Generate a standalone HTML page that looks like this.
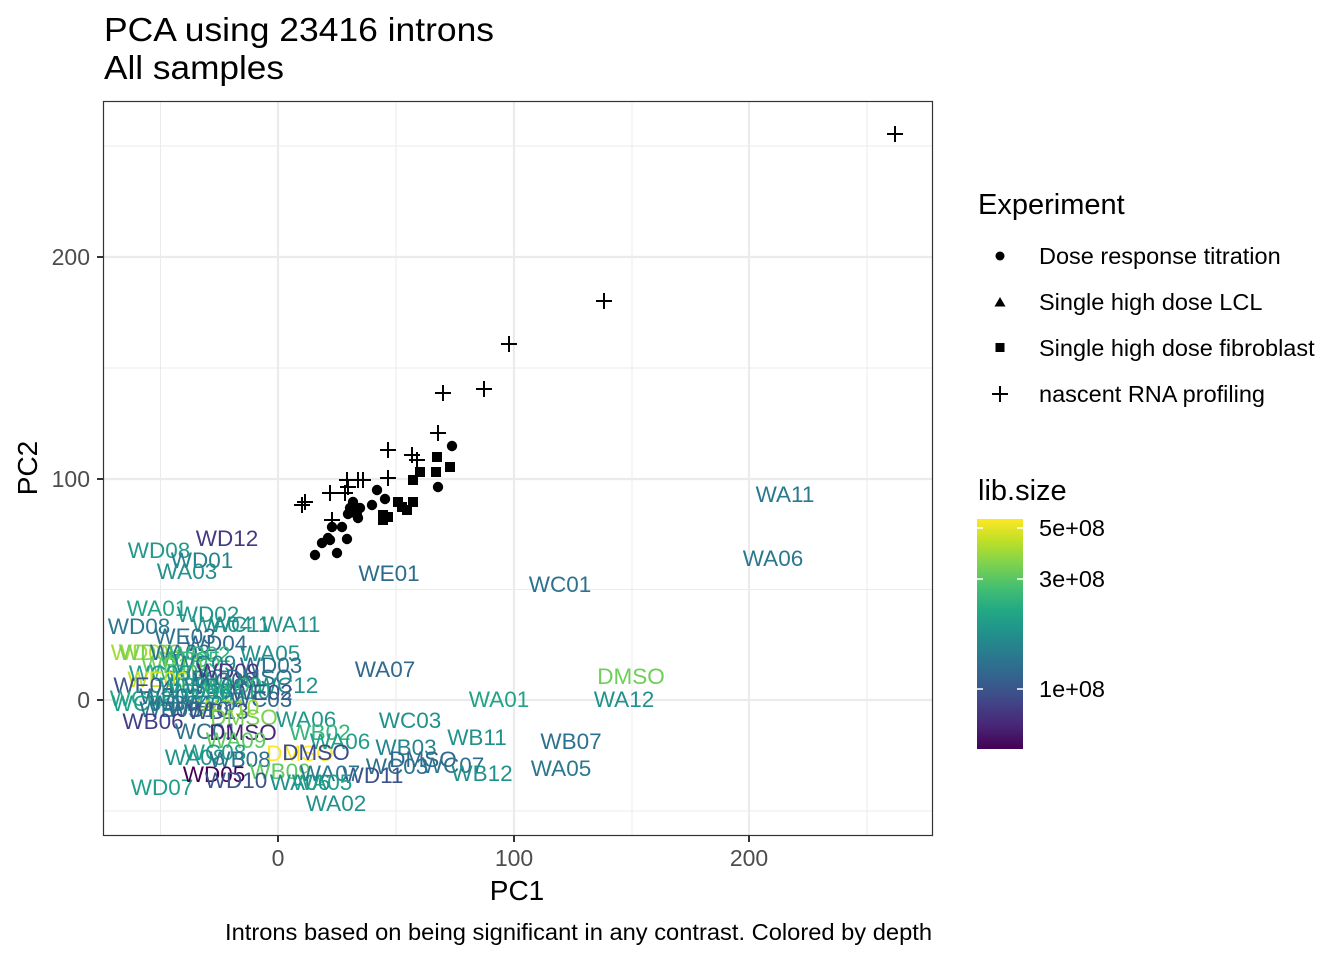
<!DOCTYPE html>
<html><head><meta charset="utf-8"><style>
html,body{margin:0;padding:0;background:#fff;}
svg{display:block;font-family:"Liberation Sans",Arial,sans-serif;}
.lb{font-size:22.5px;text-anchor:middle;}
</style></head><body>
<svg width="1344" height="960" viewBox="0 0 1344 960" xmlns="http://www.w3.org/2000/svg">
<defs>
<linearGradient id="vir" x1="0" y1="1" x2="0" y2="0">
<stop offset="0" stop-color="#440154"/><stop offset="0.1" stop-color="#482576"/><stop offset="0.2" stop-color="#414487"/><stop offset="0.3" stop-color="#35608D"/><stop offset="0.4" stop-color="#2A788E"/><stop offset="0.5" stop-color="#21908C"/><stop offset="0.6" stop-color="#22A884"/><stop offset="0.7" stop-color="#43BF71"/><stop offset="0.8" stop-color="#7AD151"/><stop offset="0.9" stop-color="#BBDF27"/><stop offset="1" stop-color="#FDE725"/>
</linearGradient>
<clipPath id="pc"><rect x="104" y="102" width="828" height="733"/></clipPath>
</defs>
<rect width="1344" height="960" fill="#fff"/>
<text x="104" y="41" font-size="33" fill="#000" textLength="390" lengthAdjust="spacingAndGlyphs">PCA using 23416 introns</text>
<text x="104" y="79" font-size="33" fill="#000" textLength="180" lengthAdjust="spacingAndGlyphs">All samples</text>
<rect x="103.5" y="101.5" width="829" height="734" fill="#fff"/>
<g stroke="#ebebeb" stroke-width="1">
<line x1="160.5" y1="102" x2="160.5" y2="835"/><line x1="396" y1="102" x2="396" y2="835"/><line x1="632" y1="102" x2="632" y2="835"/><line x1="867" y1="102" x2="867" y2="835"/>
<line x1="104" y1="146" x2="932" y2="146"/><line x1="104" y1="368" x2="932" y2="368"/><line x1="104" y1="589.5" x2="932" y2="589.5"/><line x1="104" y1="811" x2="932" y2="811"/>
</g>
<g stroke="#ebebeb" stroke-width="2.2">
<line x1="278" y1="102" x2="278" y2="835"/><line x1="514" y1="102" x2="514" y2="835"/><line x1="749" y1="102" x2="749" y2="835"/>
<line x1="104" y1="257" x2="932" y2="257"/><line x1="104" y1="479" x2="932" y2="479"/><line x1="104" y1="700" x2="932" y2="700"/>
</g>
<g clip-path="url(#pc)">
<g fill="#000">
<circle cx="452" cy="446" r="5.2"/><circle cx="438" cy="487" r="5.2"/><circle cx="377" cy="490" r="5.2"/><circle cx="385" cy="499" r="5.2"/><circle cx="353" cy="502" r="5.2"/><circle cx="350" cy="508" r="5.2"/><circle cx="360" cy="508" r="5.2"/><circle cx="372" cy="505" r="5.2"/><circle cx="358" cy="518" r="5.2"/><circle cx="332" cy="527" r="5.2"/><circle cx="342" cy="527" r="5.2"/><circle cx="347" cy="539" r="5.2"/><circle cx="328" cy="538" r="5.2"/><circle cx="322" cy="543" r="5.2"/><circle cx="337" cy="553" r="5.2"/><circle cx="315" cy="555" r="5.2"/><circle cx="357" cy="515" r="5.2"/><circle cx="330" cy="540" r="5.2"/><circle cx="348" cy="514" r="5.2"/><circle cx="354" cy="512" r="5.2"/>
</g>
<g fill="#000">
<rect x="432" y="452" width="10" height="10"/><rect x="445" y="462" width="10" height="10"/><rect x="431" y="467" width="10" height="10"/><rect x="415" y="467" width="10" height="10"/><rect x="408" y="475" width="10" height="10"/><rect x="393" y="497" width="10" height="10"/><rect x="408" y="497" width="10" height="10"/><rect x="402" y="505" width="10" height="10"/><rect x="397" y="502" width="10" height="10"/><rect x="378" y="510" width="10" height="10"/><rect x="383" y="512" width="10" height="10"/><rect x="378" y="515" width="10" height="10"/>
</g>
<g stroke="#000" stroke-width="2" fill="none">
<path d="M887 134h16M895 126v16"/><path d="M596 301h16M604 293v16"/><path d="M501 344h16M509 336v16"/><path d="M476 389h16M484 381v16"/><path d="M435 393h16M443 385v16"/><path d="M430 433h16M438 425v16"/><path d="M380 450h16M388 442v16"/><path d="M404 455h16M412 447v16"/><path d="M409 460h16M417 452v16"/><path d="M380 478h16M388 470v16"/><path d="M339 480h16M347 472v16"/><path d="M350 480h16M358 472v16"/><path d="M355 480h16M363 472v16"/><path d="M322 493h16M330 485v16"/><path d="M337 493h16M345 485v16"/><path d="M340 487h16M348 479v16"/><path d="M294 505h16M302 497v16"/><path d="M297 502h16M305 494v16"/><path d="M324 520h16M332 512v16"/>
</g>
<g class="lb">
<text x="227" y="546" fill="#443983">WD12</text>
<text x="159" y="558" fill="#23998a">WD08</text>
<text x="202" y="568" fill="#26828e">WD01</text>
<text x="187" y="579" fill="#22908c">WA03</text>
<text x="389" y="581" fill="#2f6b8e">WE01</text>
<text x="560" y="592" fill="#2c728e">WC01</text>
<text x="785" y="502" fill="#2a788e">WA11</text>
<text x="773" y="566" fill="#2a788e">WA06</text>
<text x="157" y="616" fill="#22a286">WA01</text>
<text x="208" y="622" fill="#1f968b">WD02</text>
<text x="222" y="632" fill="#26928b">WA04</text>
<text x="240" y="632" fill="#21918c">WC11</text>
<text x="291" y="632" fill="#21918c">WA11</text>
<text x="139" y="634" fill="#2a788e">WD08</text>
<text x="185" y="644" fill="#2c728e">WE03</text>
<text x="216" y="651" fill="#31688e">WD04</text>
<text x="142" y="660" fill="#a5db36">WD09</text>
<text x="150" y="660" fill="#7ad151">WD03</text>
<text x="180" y="660" fill="#2c728e">WA03</text>
<text x="200" y="662" fill="#35b779">WB02</text>
<text x="270" y="661" fill="#21918c">WA05</text>
<text x="190" y="667" fill="#35b779">WB05</text>
<text x="172" y="673" fill="#6dcd59">WB10</text>
<text x="205" y="671" fill="#26828e">WC09</text>
<text x="271" y="673" fill="#2c728e">WD03</text>
<text x="180" y="680" fill="#35b779">WB04</text>
<text x="160" y="681" fill="#1f9e89">WC05</text>
<text x="200" y="686" fill="#26828e">WB07</text>
<text x="225" y="688" fill="#31688e">WC08</text>
<text x="228" y="679" fill="#453781">WD09</text>
<text x="259" y="685" fill="#2c728e">DMSO</text>
<text x="158" y="687" fill="#c8e020">WE06</text>
<text x="144" y="693" fill="#3b528b">WE04</text>
<text x="190" y="693" fill="#1f9e89">WB01</text>
<text x="232" y="693" fill="#35b779">WA09</text>
<text x="215" y="694" fill="#2a788e">WB08</text>
<text x="287" y="693" fill="#21918c">WC12</text>
<text x="200" y="699" fill="#21918c">WD06</text>
<text x="240" y="699" fill="#22a884">WA10</text>
<text x="262" y="700" fill="#3b528b">WE02</text>
<text x="141" y="706" fill="#22a884">WC02</text>
<text x="170" y="704" fill="#2c728e">WB03</text>
<text x="215" y="704" fill="#1f9e89">WB02</text>
<text x="261" y="707" fill="#31688e">WC03</text>
<text x="143" y="711" fill="#1f9e89">WC05</text>
<text x="180" y="711" fill="#2a788e">WB04</text>
<text x="205" y="711" fill="#26828e">WE05</text>
<text x="228" y="715" fill="#9fda3a">WC10</text>
<text x="170" y="717" fill="#2c728e">WB05</text>
<text x="198" y="717" fill="#31688e">WB10</text>
<text x="218" y="719" fill="#3b528b">WB13</text>
<text x="385" y="677" fill="#31688e">WA07</text>
<text x="631" y="684" fill="#6ece58">DMSO</text>
<text x="499" y="707" fill="#20a386">WA01</text>
<text x="624" y="707" fill="#21918c">WA12</text>
<text x="410" y="728" fill="#21918c">WC03</text>
<text x="477" y="745" fill="#21918c">WB11</text>
<text x="571" y="749" fill="#2c728e">WB07</text>
<text x="406" y="755" fill="#25858e">WB03</text>
<text x="423" y="767" fill="#31688e">DMSO</text>
<text x="397" y="774" fill="#2c728e">WC03</text>
<text x="453" y="773" fill="#2c728e">WC07</text>
<text x="482" y="781" fill="#21918c">WB12</text>
<text x="561" y="776" fill="#2a788e">WA05</text>
<text x="373" y="783" fill="#3b528b">WD11</text>
<text x="336" y="811" fill="#22908c">WA02</text>
<text x="162" y="795" fill="#1f9e89">WD07</text>
<text x="153" y="729" fill="#433e85">WB06</text>
<text x="244" y="725" fill="#7ad151">DMSO</text>
<text x="306" y="727" fill="#22968a">WA06</text>
<text x="206" y="739" fill="#2c728e">WC01</text>
<text x="243" y="740" fill="#482576">DMSO</text>
<text x="320" y="740" fill="#35b779">WB02</text>
<text x="236" y="748" fill="#5ec962">WA09</text>
<text x="300" y="761" fill="#fde725">DMSO</text>
<text x="340" y="749" fill="#1f9e89">WA06</text>
<text x="316" y="760" fill="#3e4a89">DMSO</text>
<text x="215" y="760" fill="#1f9e89">WC08</text>
<text x="195" y="765" fill="#21918c">WA08</text>
<text x="240" y="767" fill="#2c728e">WB08</text>
<text x="280" y="779" fill="#5ec962">WB09</text>
<text x="330" y="781" fill="#2a788e">WA07</text>
<text x="300" y="790" fill="#21918c">WA06</text>
<text x="322" y="790" fill="#1f9e89">WA05</text>
<text x="214" y="782" fill="#440154">WD05</text>
<text x="236" y="788" fill="#3b528b">WD10</text>
</g>
</g>
<rect x="103.5" y="101.5" width="829" height="734" fill="none" stroke="#333" stroke-width="1.2"/>
<g stroke="#333" stroke-width="2">
<line x1="278" y1="836" x2="278" y2="842"/><line x1="514" y1="836" x2="514" y2="842"/><line x1="749" y1="836" x2="749" y2="842"/>
<line x1="97" y1="257" x2="103" y2="257"/><line x1="97" y1="479" x2="103" y2="479"/><line x1="97" y1="700" x2="103" y2="700"/>
</g>
<g font-size="23" fill="#4d4d4d">
<text x="278" y="866" text-anchor="middle">0</text>
<text x="514" y="866" text-anchor="middle">100</text>
<text x="749" y="866" text-anchor="middle">200</text>
<text x="90" y="265" text-anchor="end">200</text>
<text x="90" y="487" text-anchor="end">100</text>
<text x="90" y="708" text-anchor="end">0</text>
</g>
<text x="517" y="900" font-size="28" text-anchor="middle" fill="#000">PC1</text>
<text transform="translate(37,468) rotate(-90)" font-size="28" text-anchor="middle" fill="#000">PC2</text>
<text x="932" y="940" font-size="23" text-anchor="end" fill="#000" textLength="707" lengthAdjust="spacingAndGlyphs">Introns based on being significant in any contrast. Colored by depth</text>
<text x="978" y="214" font-size="29" fill="#000">Experiment</text>
<circle cx="1000" cy="256" r="4.5" fill="#000"/>
<path d="M994.5 306.5 L1000 297 L1005.5 306.5 Z" fill="#000"/>
<rect x="995.5" y="343" width="9" height="9" fill="#000"/>
<path d="M992 394h16M1000 386v16" stroke="#000" stroke-width="2"/>
<g font-size="23.5" fill="#000">
<text x="1039" y="264">Dose response titration</text>
<text x="1039" y="310">Single high dose LCL</text>
<text x="1039" y="356">Single high dose fibroblast</text>
<text x="1039" y="402">nascent RNA profiling</text>
</g>
<text x="978" y="500" font-size="29" fill="#000">lib.size</text>
<rect x="977" y="519" width="46" height="230" fill="url(#vir)"/>
<g stroke="#fff" stroke-width="1.5">
<line x1="977" y1="528" x2="983" y2="528"/><line x1="1017" y1="528" x2="1023" y2="528"/>
<line x1="977" y1="579" x2="983" y2="579"/><line x1="1017" y1="579" x2="1023" y2="579"/>
<line x1="977" y1="689" x2="983" y2="689"/><line x1="1017" y1="689" x2="1023" y2="689"/>
</g>
<g font-size="23.5" fill="#000">
<text x="1039" y="536">5e+08</text>
<text x="1039" y="587">3e+08</text>
<text x="1039" y="697">1e+08</text>
</g>
</svg>
</body></html>
